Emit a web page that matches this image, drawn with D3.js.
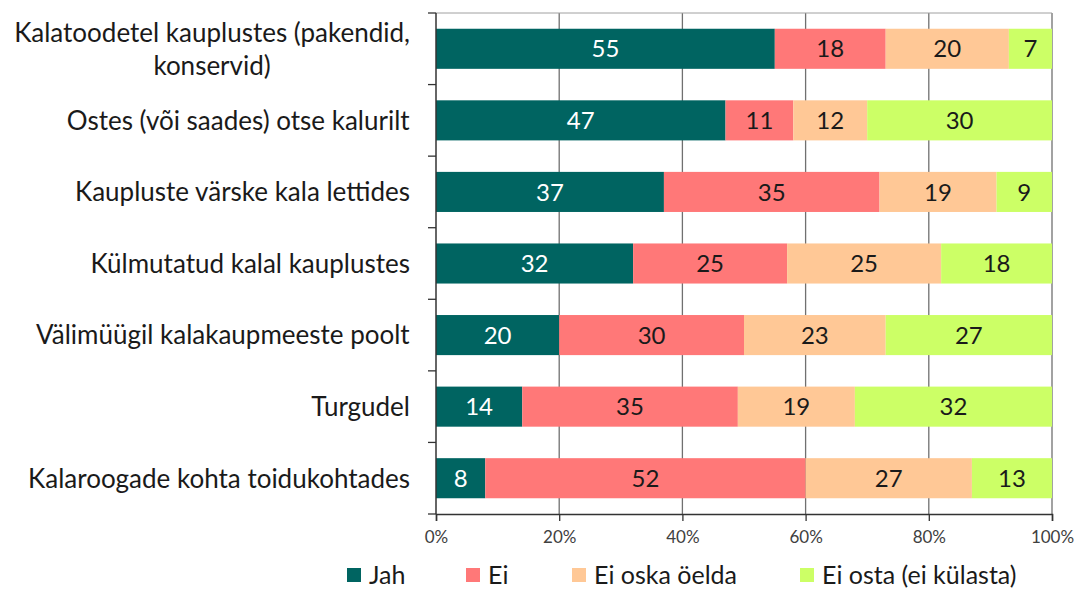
<!DOCTYPE html>
<html>
<head>
<meta charset="utf-8">
<script src="https://cdn.jsdelivr.net/npm/d3@7"></script>
<style>
  body { margin: 0; background: #fff; }
  svg { font-family: Lato, "Open Sans", sans-serif; }
</style>
</head>
<body>
<svg id="chart" width="1083" height="590"></svg>
<script>
// categories, top to bottom
var categories = [
  ["Kalatoodetel kauplustes (pakendid,", "konservid)"],
  ["Ostes (või saades) otse kalurilt"],
  ["Kaupluste värske kala lettides"],
  ["Külmutatud kalal kauplustes"],
  ["Välimüügil kalakaupmeeste poolt"],
  ["Turgudel"],
  ["Kalaroogade kohta toidukohtades"]
];
var seriesNames = ["Jah", "Ei", "Ei oska öelda", "Ei osta (ei külasta)"];
var jah     = [55, 47, 37, 32, 20, 14, 8];
var ei      = [18, 11, 35, 25, 30, 35, 52];
var eiOska  = [20, 12, 19, 25, 23, 19, 27];
var eiOsta  = [7, 30, 9, 18, 27, 32, 13];
var xTicks = [0, 20, 40, 60, 80, 100];
var colors = ["#006461", "#ff7878", "#ffc896", "#ccff66"];
var labelColors = ["#ffffff", "#1a1a1a", "#1a1a1a", "#1a1a1a"];

var svg = d3.select("#chart");
var margin = { left: 436, right: 31, top: 13, bottom: 76 };
var width = 1083 - margin.left - margin.right,
    height = 590 - margin.top - margin.bottom;

var g = svg.append("g").attr("transform", "translate(" + margin.left + "," + margin.top + ")");

var x = d3.scaleLinear().domain([0, 100]).range([0, width]);
var y = d3.scaleBand().domain(d3.range(categories.length)).range([0, height])
  .paddingInner(0.44).paddingOuter(0.22);

// build rows for stacking
var rows = categories.map(function(c, i) {
  return { i: i, s0: jah[i], s1: ei[i], s2: eiOska[i], s3: eiOsta[i] };
});
var stack = d3.stack().keys(["s0", "s1", "s2", "s3"]);
var layers = stack(rows);

// gridlines
g.append("g").selectAll("line")
  .data(xTicks.slice(1))
  .enter().append("line")
    .attr("x1", function(d) { return x(d); })
    .attr("x2", function(d) { return x(d); })
    .attr("y1", 0).attr("y2", height)
    .attr("stroke", "#707070").attr("stroke-width", 1.3);

// top border
g.append("line")
  .attr("x1", 0).attr("x2", width).attr("y1", 0).attr("y2", 0)
  .attr("stroke", "#a0a0a0").attr("stroke-width", 1);

// bars
var layerG = g.selectAll("g.layer")
  .data(layers)
  .enter().append("g")
    .attr("class", "layer")
    .attr("fill", function(d, k) { return colors[k]; });

layerG.selectAll("rect")
  .data(function(d) { return d; })
  .enter().append("rect")
    .attr("x", function(d) { return x(d[0]); })
    .attr("width", function(d) { return x(d[1]) - x(d[0]); })
    .attr("y", function(d) { return y(d.data.i); })
    .attr("height", y.bandwidth());

layerG.selectAll("text")
  .data(function(d) { return d; })
  .enter().append("text")
    .attr("x", function(d) { return (x(d[0]) + x(d[1])) / 2; })
    .attr("y", function(d) { return y(d.data.i) + y.bandwidth() / 2; })
    .attr("dy", "0.36em")
    .attr("text-anchor", "middle")
    .attr("font-size", 24)
    .attr("fill", function() { return labelColors[layers.indexOf(d3.select(this.parentNode).datum())]; })
    .text(function(d) { return d[1] - d[0]; });

// y axis line + ticks at band boundaries
var yAx = g.append("g");
yAx.append("line").attr("x1", 0).attr("x2", 0).attr("y1", 0).attr("y2", height)
  .attr("stroke", "#333").attr("stroke-width", 1.5);
var step = height / categories.length;
yAx.selectAll("line.tk")
  .data(d3.range(categories.length + 1))
  .enter().append("line")
    .attr("class", "tk")
    .attr("x1", -8).attr("x2", 0)
    .attr("y1", function(d) { return d * step; })
    .attr("y2", function(d) { return d * step; })
    .attr("stroke", "#333").attr("stroke-width", 1.3);

// category labels
var labels = g.append("g").selectAll("text")
  .data(categories)
  .enter().append("text")
    .attr("font-size", 26)
    .attr("fill", "#1a1a1a")
    .attr("text-anchor", "middle")
    .attr("y", function(d, i) { return y(i) + y.bandwidth() / 2 - (d.length - 1) * 16.5; });
labels.each(function(d) {
  var t = d3.select(this);
  d.forEach(function(line, k) {
    t.append("tspan").attr("x", 0).attr("dy", k === 0 ? "0.36em" : 33).text(line);
  });
});
// right-align the block, lines centred within it
labels.each(function() {
  var w = this.getBBox().width;
  d3.select(this).attr("transform", "translate(" + (-26 - w / 2) + ",0)");
});

// x axis
var xAxis = g.append("g")
  .attr("transform", "translate(0," + height + ")")
  .call(d3.axisBottom(x).tickValues(xTicks).tickSize(7).tickFormat(function(d) { return d + "%"; }));
xAxis.select(".domain").attr("stroke", "#333").attr("stroke-width", 1.5);
xAxis.selectAll(".tick line").attr("stroke", "#333").attr("stroke-width", 1.3);
xAxis.selectAll("text")
  .attr("font-family", "Lato, 'Open Sans', sans-serif")
  .attr("font-size", 17).attr("fill", "#404040").attr("dy", "1.1em");

// legend
var legendX = [347, 466, 572, 800];
var legend = svg.append("g").selectAll("g")
  .data(seriesNames)
  .enter().append("g")
    .attr("transform", function(d, k) { return "translate(" + legendX[k] + ",575)"; });
legend.append("rect")
  .attr("x", 0).attr("y", -7).attr("width", 14).attr("height", 14)
  .attr("fill", function(d, k) { return colors[k]; });
legend.append("text")
  .attr("x", 22).attr("dy", "0.34em")
  .attr("font-size", 25).attr("fill", "#1a1a1a")
  .text(function(d) { return d; });
</script>
</body>
</html>
